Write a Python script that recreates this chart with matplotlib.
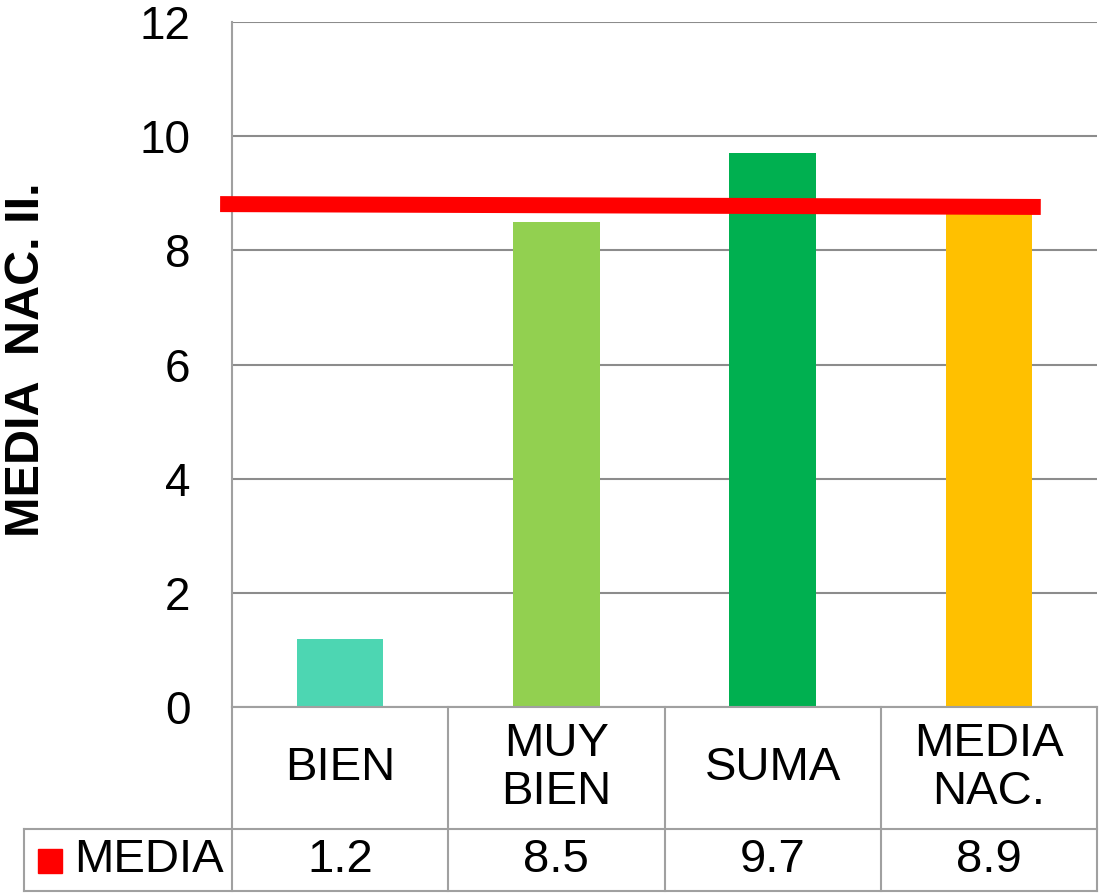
import matplotlib.pyplot as plt
from matplotlib.transforms import blended_transform_factory

plt.rcParams['font.family'] = ['Liberation Sans', 'DejaVu Sans']

categories = ['BIEN', 'MUY\nBIEN', 'SUMA', 'MEDIA\nNAC.']
values = [1.2, 8.5, 9.7, 8.9]
value_labels = ['1.2', '8.5', '9.7', '8.9']
bar_colors = ['#4DD6B2', '#92D050', '#00B050', '#FFC000']
series_name = 'MEDIA'
# red reference line drawn over the bars (ends)
media_line_x = [-0.555, 3.24]
media_line_y = [8.81, 8.76]
# the last bar is only visible up to the red line
bar_heights = [1.2, 8.5, 9.7, 8.72]

W, H = 1102, 894
fig = plt.figure(figsize=(W / 100, H / 100), dpi=100)

# plot area in pixels
left, right, top, bottom = 232, 1097, 22, 707
ax = fig.add_axes([left / W, 1 - bottom / H, (right - left) / W, (bottom - top) / H])

x = range(len(categories))
ax.bar(x, bar_heights, width=0.4, color=bar_colors, zorder=2)
ax.plot(media_line_x, media_line_y, color='#FF0000', lw=11.5, solid_capstyle='butt',
        zorder=3, clip_on=False)

ax.set_xlim(-0.5, 3.5)
ax.set_ylim(0, 12)
ax.set_yticks(range(0, 13, 2))
ax.set_xticks([])
ax.tick_params(axis='y', length=0, pad=30, labelsize=33)
ax.grid(axis='y', color='#8C8C8C', lw=1.5, zorder=0)
for s in ['top', 'right', 'bottom']:
    ax.spines[s].set_visible(False)
ax.spines['left'].set_color('#A0A0A0')
ax.spines['left'].set_linewidth(1.5)

fig.text(27 / W, 1 - 360 / H, 'MEDIA  NAC. II.', rotation=90, fontsize=35,
         fontweight='bold', ha='center', va='center')

# data table under the chart
grid_kw = dict(color='#A0A0A0', lw=1.5, clip_on=False)
tr = blended_transform_factory(ax.transData, fig.transFigure)
row_mid, row_bot = 829, 891


def fy(p):
    return 1 - p / H


for i in range(len(categories) + 1):
    ax.plot([i - 0.5, i - 0.5], [fy(bottom), fy(row_bot)], transform=tr, **grid_kw)
ax.plot([-0.5, 3.5], [fy(bottom), fy(bottom)], transform=tr, **grid_kw)

tab_left = 24 / W
fig.add_artist(plt.Line2D([tab_left, right / W], [fy(row_mid), fy(row_mid)], **grid_kw))
fig.add_artist(plt.Line2D([tab_left, right / W], [fy(row_bot), fy(row_bot)], **grid_kw))
fig.add_artist(plt.Line2D([tab_left, tab_left], [fy(row_mid), fy(row_bot)], **grid_kw))

for i, (c, v) in enumerate(zip(categories, value_labels)):
    ax.text(i, fy((bottom + row_mid) / 2), c, transform=tr, ha='center', va='center',
            fontsize=34, linespacing=1.1)
    ax.text(i, fy((row_mid + row_bot) / 2), v, transform=tr, ha='center', va='center',
            fontsize=34)

fig.add_artist(plt.Rectangle((38 / W, fy(873)), 24 / W, 24 / H, color='#FF0000',
                             transform=fig.transFigure))
fig.text(74 / W, fy((row_mid + row_bot) / 2), series_name, ha='left', va='center',
         fontsize=34)

fig.savefig('out.png', dpi=100)
